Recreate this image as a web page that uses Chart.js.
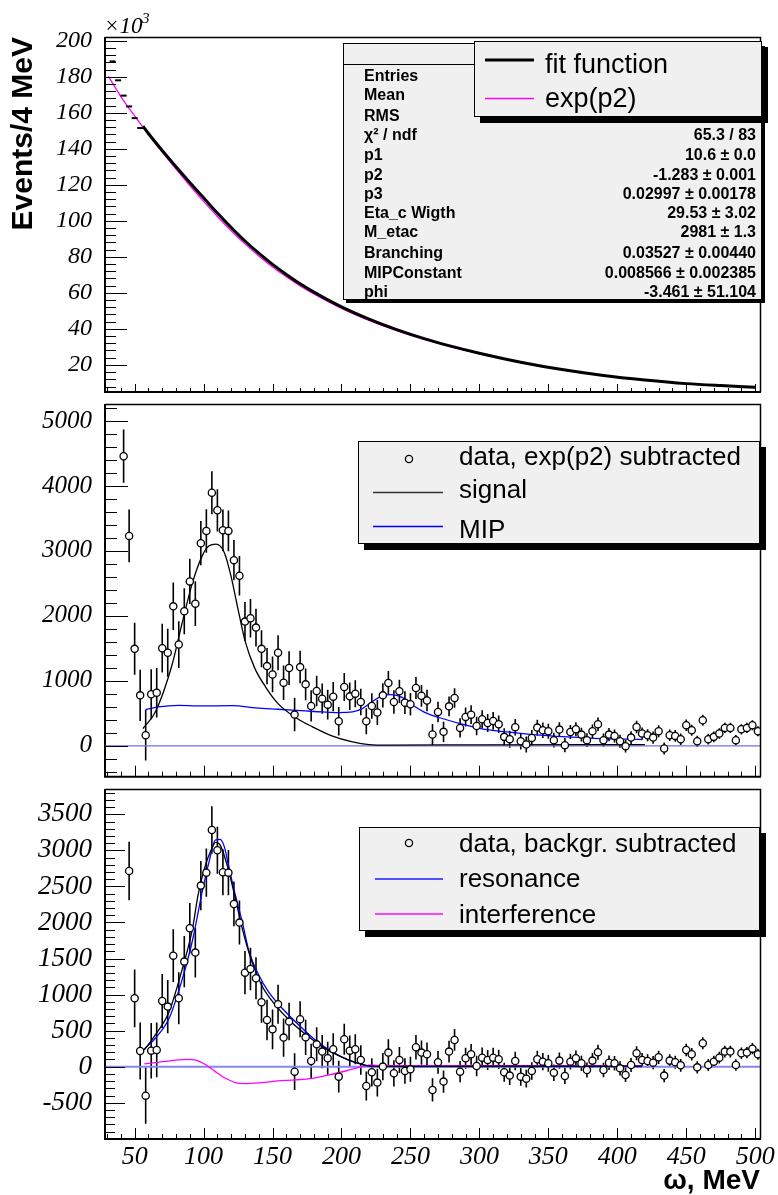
<!DOCTYPE html>
<html>
<head>
<meta charset="utf-8">
<title>omega spectrum</title>
<script src="https://cdn.jsdelivr.net/npm/chart.js@4.4.1/dist/chart.umd.min.js"></script>
<style>
  html, body { margin: 0; padding: 0; background: #fff; }
  #page { position: relative; width: 778px; height: 1195px; overflow: hidden; }
  #page canvas { position: absolute; left: 0; }
</style>
</head>
<body>
<div id="page">
  <canvas id="padTop" width="778" height="398" style="top:0px"></canvas>
  <canvas id="padMid" width="778" height="384" style="top:398px"></canvas>
  <canvas id="padBot" width="778" height="413" style="top:782px"></canvas>
</div>
<script>
const SANS = '"Liberation Sans", Arial, Helvetica, sans-serif';
const SERIF = '"Liberation Serif", "Times New Roman", serif';

// shared omega axis (MeV)
const xMin = 28.5, xMax = 503.5;
const xTicks = [50, 100, 150, 200, 250, 300, 350, 400, 450, 500];

const topYTicks = [20, 40, 60, 80, 100, 120, 140, 160, 180, 200];
const midYTicks = [0, 1000, 2000, 3000, 4000, 5000];
const botYTicks = [-500, 0, 500, 1000, 1500, 2000, 2500, 3000, 3500];

// top pad, events in units of 10^3
const topDataX = [34, 38, 42, 46, 50, 54];
const topDataY = [188.5, 178.0, 169.5, 163.5, 157.0, 151.5];
const fitX = [56, 60, 70, 80, 90, 100, 110, 120, 130, 140, 150, 160, 170, 180, 200, 220, 240, 260, 280, 300, 330, 360, 390, 420, 450, 475, 500];
const fitY = [152.5, 148.5, 139.0, 130.0, 121.3, 112.8, 104.3, 96.3, 88.8, 82.0, 75.8, 70.2, 65.0, 60.4, 52.2, 45.4, 39.6, 34.6, 30.3, 26.5, 21.5, 17.4, 14.1, 11.6, 9.6, 8.5, 7.6];
const expX = [31, 40, 50, 60, 70, 80, 90, 100, 110, 120, 130, 140, 150, 160, 170, 180, 200, 220, 240, 260, 280, 300, 330, 360, 390, 420, 450, 475, 500];
const expY = [180.2, 169.0, 158.2, 147.9, 138.1, 128.7, 119.6, 110.8, 102.4, 94.5, 87.2, 80.5, 74.4, 68.9, 63.9, 59.4, 51.4, 44.7, 39.0, 34.1, 29.9, 26.2, 21.3, 17.3, 14.0, 11.5, 9.5, 8.4, 7.5];

// 4 MeV bins
const binX = [42, 46, 50, 54, 58, 62, 66, 70, 74, 78, 82, 86, 90, 94, 98, 102, 106, 110, 114, 118,
  122, 126, 130, 134, 138, 142, 146, 150, 154, 158, 162, 166, 170, 174, 178, 182, 186, 190, 194, 198,
  202, 206, 210, 214, 218, 222, 226, 230, 234, 238, 242, 246, 250, 254, 258, 262, 266, 270, 274, 278,
  282, 286, 290, 294, 298, 302, 306, 310, 314, 318, 322, 326, 330, 334, 338, 342, 346, 350, 354, 358,
  362, 366, 370, 374, 378, 382, 386, 390, 394, 398, 402, 406, 410, 414, 418, 422, 426, 430, 434, 438,
  442, 446, 450, 454, 458, 462, 466, 470, 474, 478, 482, 486, 490, 494, 498, 502];
const binErr = [410, 405, 400, 395, 390, 385, 380, 375, 370, 365,
  360, 355, 350, 345, 340, 335, 330, 325, 320, 315,
  310, 305, 300, 295, 290, 285, 280, 275, 270, 265,
  260, 255, 250, 245, 240, 236, 232, 228, 224, 220,
  216, 212, 208, 204, 200, 196, 192, 188, 185, 182,
  179, 176, 173, 170, 167, 164, 161, 158, 155, 152,
  150, 148, 146, 144, 142, 140, 138, 136, 134, 132,
  130, 128, 126, 124, 122, 120, 118, 116, 114, 112,
  110, 108, 107, 106, 105, 104, 103, 102, 101, 100,
  99, 98, 97, 96, 95, 94, 93, 92, 91, 90,
  89, 88, 87, 86, 85, 84, 83, 82, 81, 80,
  80, 79, 79, 78, 78, 77];

// middle pad: data with exp(p2) subtracted
const midY = [4458, 3231, 1493, 777, 164, 793, 818, 1503, 1432, 2147,
  1559, 2071, 2531, 2188, 3119, 3308, 3896, 3625, 3318, 3308,
  2858, 2618, 1912, 1963, 1820, 1493, 1227, 1099, 1432, 971,
  1197, 481, 1212, 946, 614, 844, 726, 634, 757, 379,
  905, 762, 803, 675, 379, 614, 512, 777, 966, 675,
  839, 665, 640, 890, 770, 698, 174, 521, 215, 608,
  736, 276, 445, 480, 306, 409, 352, 383, 332, 138,
  102, 286, 71, 20, 122, 281, 240, 225, 87, 250,
  10, 214, 255, 173, 87, 225, 332, 87, 173, 153,
  71, -5, 127, 291, 189, 163, 127, 225, -41, 163,
  153, 102, 317, 240, 71, 393, 102, 138, 189, 276,
  276, 87, 255, 276, 317, 225];
const signalX = [56, 65, 77, 84, 92, 99, 104, 109, 115, 120, 125, 130, 137, 145, 154, 166, 179, 193, 208, 220, 234, 300, 420];
const signalY = [266, 522, 1237, 1851, 2515, 2924, 3078, 3103, 2976, 2600, 2100, 1620, 1200, 905, 650, 445, 292, 154, 61, 20, 12, 16, 20];
const mipX = [58, 67, 82, 96, 121, 138, 154, 174, 186, 198, 208, 215, 222, 229, 236, 244, 252, 260, 270, 286, 301, 320, 339, 364, 388, 407, 418];
const mipY = [557, 598, 624, 614, 619, 583, 563, 537, 522, 512, 522, 573, 675, 765, 788, 745, 620, 520, 440, 342, 265, 214, 174, 138, 112, 102, 97];

// bottom pad: data with background subtracted (starts one bin later)
const botX = binX.slice(1);
const botErr = binErr.slice(1);
const botY = [2714, 948, 218, -402, 222, 232, 911, 833, 1540, 948,
  1457, 1919, 1582, 2511, 2691, 3283, 3001, 2696, 2691, 2257,
  1998, 1304, 1355, 1226, 893, 648, 518, 865, 403, 625,
  -69, 657, 407, 79, 310, 209, 116, 241, -138, 380,
  222, 241, 93, -268, -78, -221, 1, 195, -92, 93,
  -60, -37, 269, 195, 172, -323, 61, -207, 209, 371,
  -69, 116, 172, 10, 125, 93, 125, 102, -78, -124,
  79, -138, -166, -60, 102, 70, 47, -83, 84, -129,
  70, 116, 47, -46, 84, 200, -46, 55, 47, -23,
  -115, 24, 186, 93, 79, 56, 130, -124, 84, 61,
  19, 232, 172, -9, 324, 24, 70, 125, 209, 209,
  24, 186, 195, 250, 172];
const totX = [57, 65, 75, 84, 92, 96, 101, 106, 108.5, 112, 117, 123, 128, 135, 142, 150, 162, 174, 186, 198, 210, 220, 229, 300, 418];
const totY = [232, 440, 763, 1318, 1919, 2381, 2774, 3029, 3112, 3075, 2798, 2335, 1919, 1457, 1133, 902, 648, 449, 278, 153, 60, 10, 3, 6, 8];
const resX = [57, 65, 75, 84, 92, 99, 104, 108.5, 112, 115, 118, 123, 128, 133, 140, 147, 157, 169, 181, 193, 205, 217, 225, 300, 418];
const resY = [246, 394, 671, 1179, 1757, 2428, 2844, 3144, 3153, 3052, 2798, 2381, 2012, 1595, 1272, 1041, 810, 578, 370, 209, 92, 23, 2, 2, 2];
const intX = [57, 67, 77, 88, 95, 101, 108.5, 116, 123, 130, 142, 154, 166.5, 179, 191, 203, 215, 222, 229, 300, 418];
const intY = [38, 61, 84, 102, 88, 33, -69, -161, -221, -235, -221, -198, -184, -161, -115, -60, 0, 23, 15, 15, 15];

const zeroX = [xMin, xMax];
const zeroY = [0, 0];

const statLabels = ['Entries', 'Mean', 'RMS', 'χ² / ndf', 'p1', 'p2', 'p3', 'Eta_c Wigth', 'M_etac', 'Branching', 'MIPConstant', 'phi'];
const statValues = ['', '', '', '65.3 / 83', '10.6 ± 0.0', '-1.283 ± 0.001', '0.02997 ± 0.00178', '29.53 ± 3.02', '2981 ± 1.3', '0.03527 ± 0.00440', '0.008566 ± 0.002385', '-3.461 ± 51.104'];
const statBaselines = [81, 100, 121, 140, 160, 180, 199, 218, 237, 258, 278, 297];

function pts(xs, ys) {
  return xs.map((x, i) => ({ x, y: ys[i] }));
}

function curve(label, xs, ys, color, width) {
  return {
    type: 'line', label, data: pts(xs, ys),
    borderColor: color, borderWidth: width, pointRadius: 0, fill: false,
    cubicInterpolationMode: 'monotone',
  };
}

function markers(label, xs, ys) {
  return {
    type: 'scatter', label, data: pts(xs, ys),
    pointStyle: 'circle', pointRadius: 3.6,
    pointBackgroundColor: '#fff', pointBorderColor: '#000', pointBorderWidth: 1.3,
  };
}

function zeroPad(s) {
  s.paddingLeft = 0; s.paddingRight = 0; s.paddingTop = 0; s.paddingBottom = 0;
}

function axes(yMin, yMax, yTicks, yFont, o) {
  return {
    x: {
      type: 'linear', min: xMin, max: xMax,
      grid: { display: false }, border: { display: false },
      afterBuildTicks: (s) => { s.ticks = xTicks.map((v) => ({ value: v })); },
      afterFit: (s) => { s.height = o.xHeight; zeroPad(s); },
      ticks: {
        display: !!o.xLabels, padding: -3, color: '#000', autoSkip: false, maxRotation: 0,
        font: { family: SERIF, style: 'italic', size: 26, lineHeight: 1 },
        callback: (v) => String(v),
      },
      title: o.xTitle || { display: false },
    },
    y: {
      type: 'linear', min: yMin, max: yMax,
      grid: { display: false }, border: { display: false },
      afterBuildTicks: (s) => { s.ticks = yTicks.map((v) => ({ value: v })); },
      afterFit: (s) => { s.width = 105; zeroPad(s); },
      ticks: {
        padding: 5, color: '#000', autoSkip: false,
        font: { family: SERIF, style: 'italic', size: yFont },
        callback: (v) => String(v),
      },
      title: o.yTitle || { display: false },
    },
  };
}

// ROOT-like frame with inward ticks
const frameTicks = {
  id: 'frameTicks',
  afterDatasetsDraw(chart, args, o) {
    const { ctx, chartArea: a } = chart;
    const xs = chart.scales.x, ys = chart.scales.y;
    ctx.save();
    ctx.strokeStyle = '#000';
    ctx.lineWidth = 1;
    ctx.beginPath();
    const yStart = Math.ceil(ys.min / o.yStep) * o.yStep;
    for (let v = yStart; v <= ys.max; v += o.yStep) {
      const p = Math.round(ys.getPixelForValue(v)) + 0.5;
      const len = o.yMajors.includes(Math.round(v * 100) / 100) ? o.yMajorLen : o.yMinorLen;
      ctx.moveTo(a.left, p);
      ctx.lineTo(a.left + len, p);
    }
    for (let v = 30; v <= xs.max; v += 10) {
      const p = Math.round(xs.getPixelForValue(v)) + 0.5;
      const len = v % 50 === 0 ? o.xMajorLen : o.xMinorLen;
      ctx.moveTo(p, a.bottom);
      ctx.lineTo(p, a.bottom - len);
    }
    ctx.stroke();
    ctx.lineWidth = 1.5;
    ctx.beginPath();
    ctx.moveTo(a.left, a.top + 0.5);
    ctx.lineTo(a.right + 0.5, a.top + 0.5);
    ctx.lineTo(a.right + 0.5, a.bottom);
    ctx.stroke();
    ctx.lineWidth = 2;
    ctx.beginPath();
    ctx.moveTo(a.left, a.top);
    ctx.lineTo(a.left, a.bottom);
    ctx.lineTo(a.right + 1, a.bottom);
    ctx.stroke();
    ctx.restore();
  },
};

// vertical error bars for dataset 0
const errorBars = {
  id: 'errorBars',
  beforeDatasetsDraw(chart, args, o) {
    const { ctx, chartArea: a } = chart;
    const ys = chart.scales.y;
    const meta = chart.getDatasetMeta(0);
    const data = chart.data.datasets[0].data;
    ctx.save();
    ctx.beginPath();
    ctx.rect(a.left, a.top, a.right - a.left, a.bottom - a.top);
    ctx.clip();
    ctx.strokeStyle = '#000';
    ctx.lineWidth = 1.6;
    ctx.beginPath();
    meta.data.forEach((pt, i) => {
      const v = data[i].y, e = o.errors[i];
      ctx.moveTo(pt.x, ys.getPixelForValue(v - e));
      ctx.lineTo(pt.x, ys.getPixelForValue(v + e));
    });
    ctx.stroke();
    ctx.restore();
  },
};

function panel(ctx, x1, y1, x2, y2, sh) {
  ctx.fillStyle = '#000';
  ctx.fillRect(x1 + sh, y1 + sh, x2 - x1, y2 - y1);
  ctx.fillStyle = '#f0f0f0';
  ctx.fillRect(x1, y1, x2 - x1, y2 - y1);
  ctx.strokeStyle = '#000';
  ctx.lineWidth = 1;
  ctx.strokeRect(x1 + 0.5, y1 + 0.5, x2 - x1 - 1, y2 - y1 - 1);
}

function legendLine(ctx, x1, x2, y, color, width) {
  ctx.strokeStyle = color;
  ctx.lineWidth = width;
  ctx.beginPath();
  ctx.moveTo(x1, y);
  ctx.lineTo(x2, y);
  ctx.stroke();
}

function legendCircle(ctx, x, y) {
  ctx.strokeStyle = '#000';
  ctx.lineWidth = 1.3;
  ctx.beginPath();
  ctx.arc(x, y, 3.6, 0, Math.PI * 2);
  ctx.stroke();
}

function text(ctx, s, x, y, font, align) {
  ctx.font = font;
  ctx.fillStyle = '#000';
  ctx.textAlign = align || 'left';
  ctx.textBaseline = 'alphabetic';
  ctx.fillText(s, x, y);
}

function overlay(id, pageTop, draw) {
  return {
    id,
    afterDraw(chart) {
      const ctx = chart.ctx;
      ctx.save();
      ctx.translate(0, -pageTop);
      draw(ctx);
      ctx.restore();
    },
  };
}

const legendFont = '26px ' + SANS;

const topOverlay = overlay('topOverlay', 0, (ctx) => {
  text(ctx, '×10', 104, 33, 'italic 23px ' + SERIF);
  text(ctx, '3', 142, 23, 'italic 15px ' + SERIF);
  panel(ctx, 343, 43, 762, 300, 3);
  ctx.strokeStyle = '#000';
  ctx.lineWidth = 1;
  ctx.beginPath();
  ctx.moveTo(343, 64.5);
  ctx.lineTo(762, 64.5);
  ctx.stroke();
  statLabels.forEach((s, i) => {
    text(ctx, s, 364, statBaselines[i], 'bold 16px ' + SANS);
    if (statValues[i]) text(ctx, statValues[i], 756, statBaselines[i], 'bold 16px ' + SANS, 'right');
  });
  panel(ctx, 474, 41, 762, 117, 6);
  legendLine(ctx, 485, 534, 60, '#000', 3);
  text(ctx, 'fit function', 545, 73, '27px ' + SANS);
  legendLine(ctx, 485, 534, 98.5, '#ff00ff', 1.3);
  text(ctx, 'exp(p2)', 545, 106.5, '27px ' + SANS);
});

const midOverlay = overlay('midOverlay', 398, (ctx) => {
  panel(ctx, 358, 441, 760, 544, 6);
  legendCircle(ctx, 409, 459);
  text(ctx, 'data, exp(p2) subtracted', 459, 465, legendFont);
  legendLine(ctx, 373, 443, 492.5, '#333', 1.5);
  text(ctx, 'signal', 459, 498, legendFont);
  legendLine(ctx, 373, 443, 526.5, '#0000ff', 1.3);
  text(ctx, 'MIP', 459, 538, legendFont);
});

const botOverlay = overlay('botOverlay', 782, (ctx) => {
  panel(ctx, 359, 827, 760, 931, 6);
  legendCircle(ctx, 409, 843);
  text(ctx, 'data, backgr. subtracted', 459, 852, legendFont);
  legendLine(ctx, 375, 443, 879, '#5050ff', 2);
  text(ctx, 'resonance', 459, 887, legendFont);
  legendLine(ctx, 375, 443, 914, '#ff40ff', 2);
  text(ctx, 'interference', 459, 923, legendFont);
});

const common = {
  responsive: false,
  animation: false,
  devicePixelRatio: 1,
  events: [],
};

new Chart(document.getElementById('padTop'), {
  type: 'scatter',
  data: {
    datasets: [
      {
        type: 'scatter', label: 'data', data: pts(topDataX, topDataY),
        pointStyle: 'line', pointRadius: 3, pointBorderColor: '#000', pointBorderWidth: 2,
      },
      curve('fit function', fitX, fitY, '#000', 3),
      curve('exp(p2)', expX, expY, '#ff00ff', 1.3),
    ],
  },
  options: {
    ...common,
    layout: { padding: { top: 37, right: 18, left: 0, bottom: 0 } },
    plugins: {
      legend: { display: false }, tooltip: { enabled: false },
      frameTicks: { yStep: 4, yMajors: topYTicks, yMajorLen: 22, yMinorLen: 11, xMajorLen: 8, xMinorLen: 4 },
    },
    scales: axes(4.95, 202.05, topYTicks, 24, {
      xHeight: 5,
      yTitle: {
        display: true, text: 'Events/4 MeV', align: 'end', color: '#000',
        font: { family: SANS, weight: 'bold', size: 30, lineHeight: 1 },
        padding: { top: 9, bottom: 0 },
      },
    }),
  },
  plugins: [frameTicks, topOverlay],
});

new Chart(document.getElementById('padMid'), {
  type: 'scatter',
  data: {
    datasets: [
      markers('data, exp(p2) subtracted', binX, midY),
      curve('signal', signalX, signalY, '#000', 1.3),
      curve('MIP', mipX, mipY, '#0000ff', 1.3),
      curve('zero', zeroX, zeroY, '#6f6ff0', 1.2),
    ],
  },
  options: {
    ...common,
    layout: { padding: { top: 6, right: 18, left: 0, bottom: 0 } },
    plugins: {
      legend: { display: false }, tooltip: { enabled: false },
      errorBars: { errors: binErr },
      frameTicks: { yStep: 200, yMajors: midYTicks, yMajorLen: 23, yMinorLen: 12, xMajorLen: 11, xMinorLen: 5 },
    },
    scales: axes(-475, 5261, midYTicks, 25, { xHeight: 4 }),
  },
  plugins: [errorBars, frameTicks, midOverlay],
});

new Chart(document.getElementById('padBot'), {
  type: 'scatter',
  data: {
    datasets: [
      markers('data, backgr. subtracted', botX, botY),
      curve('total', totX, totY, '#000', 1.3),
      curve('resonance', resX, resY, '#0000ff', 1.3),
      curve('interference', intX, intY, '#ff00ff', 1.3),
      curve('zero', zeroX, zeroY, '#8585f5', 2),
    ],
  },
  options: {
    ...common,
    layout: { padding: { top: 7, right: 18, left: 0, bottom: 0 } },
    plugins: {
      legend: { display: false }, tooltip: { enabled: false },
      errorBars: { errors: botErr },
      frameTicks: { yStep: 100, yMajors: botYTicks, yMajorLen: 20, yMinorLen: 10, xMajorLen: 11, xMinorLen: 5 },
    },
    scales: axes(-1003, 3851, botYTicks, 27, {
      xHeight: 56,
      xLabels: true,
      xTitle: {
        display: true, text: 'ω, MeV', align: 'end', color: '#000',
        font: { family: SANS, weight: 'bold', size: 28, lineHeight: 1 },
        padding: { top: 0, bottom: 0 },
      },
    }),
  },
  plugins: [errorBars, frameTicks, botOverlay],
});
</script>
</body>
</html>
